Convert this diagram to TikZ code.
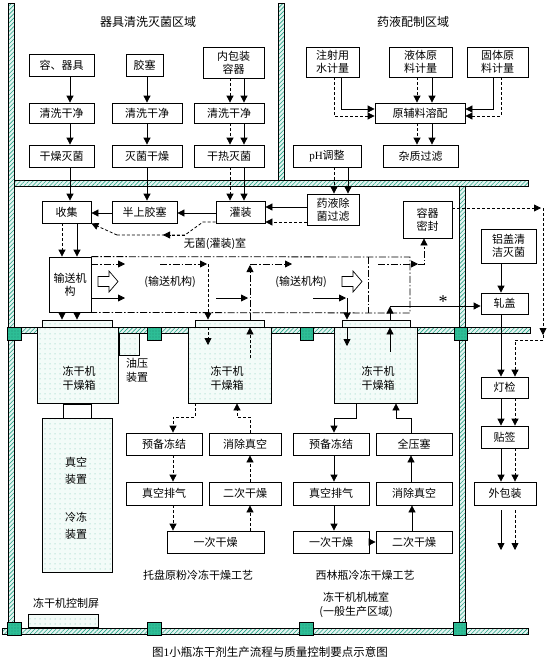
\documentclass[tikz,border=0pt]{standalone}
\usepackage{fontspec}
\setmainfont{Noto Sans CJK SC}
\newfontfamily\lat{Liberation Serif}
\usetikzlibrary{arrows.meta,patterns,patterns.meta}
\definecolor{wallc}{RGB}{40,165,135}
\definecolor{sqc}{RGB}{45,190,150}
\definecolor{chc}{RGB}{243,251,248}
\tikzset{
 box/.style={draw, line width=0.8pt, fill=white, inner sep=0pt, align=center, font=\fontsize{11}{13}\selectfont},
 chamber/.style={draw, line width=0.8pt, preaction={fill=chc}, pattern={Dots[radius=0.5pt,distance=5pt]}, pattern color=wallc!70, inner sep=0pt},
 ar/.style={-{Triangle[length=7pt,width=7pt]}, line width=0.8pt},
 dar/.style={ar, dash pattern=on 3pt off 2pt},
 ddar/.style={ar, dash pattern=on 7pt off 2pt on 1.5pt off 2pt},
 dd/.style={line width=0.8pt, dash pattern=on 7pt off 2pt on 1.5pt off 2pt},
 lbl/.style={inner sep=0pt, align=center, font=\fontsize{11}{14}\selectfont},
 ttl/.style={inner sep=0pt, font=\fontsize{12}{14}\selectfont},
}
\newcommand\B[7][box]{\node[#1,minimum width=#5,minimum height=#6] (#2) at (#3,#4) {#7};}
\newcommand\wallr[4]{\fill[wallc!12] (#1,#2) rectangle (#3,#4);
 \fill[pattern={Lines[angle=45,distance=3pt,line width=0.6pt]}, pattern color=wallc] (#1,#2) rectangle (#3,#4);
 \draw[line width=0.5pt] (#1,#2) rectangle (#3,#4);}
\newcommand\sqr[2]{\fill[sqc] (#1,#2) rectangle ++(13.5,13.5);
 \fill[pattern={Dots[radius=0.4pt,distance=3pt]}, pattern color=wallc!40!black] (#1,#2) rectangle ++(13.5,13.5);
 \draw[line width=0.5pt] (#1,#2) rectangle ++(13.5,13.5);}
\begin{document}
\begin{tikzpicture}[x=1pt,y=-1pt]
\fill[white] (0,0) rectangle (550,664);
\useasboundingbox (0,0) rectangle (550,664);
% walls
\wallr{8}{3}{14}{628}
\wallr{278}{3}{284}{180}
\wallr{14}{180}{528}{186}
\wallr{459}{186}{465}{628}
\wallr{2}{628}{528}{634}
\wallr{14}{327}{37}{333}
\wallr{118}{327}{188}{333}
\wallr{271}{327}{334}{333}
\wallr{417}{327}{530}{333}
\sqr{7.5}{327}\sqr{147.5}{327}\sqr{300}{327}\sqr{454}{327}
\sqr{7.5}{622}\sqr{147.5}{622}\sqr{299.5}{622}\sqr{453}{622}
% titles
\node[ttl] (t1) at (148,22) {器具清洗灭菌区域};
\node[ttl] (t2) at (413,22) {药液配制区域};
% top-left boxes
\B{rq}{61.5}{65}{65}{22}{容、器具}
\B{jiaos}{144.5}{65}{37}{22}{胶塞}
\B{nbz}{233.5}{62.5}{61}{31}{内包装\\容器}
\B{qx1}{61.5}{113}{65}{20}{清洗干净}
\B{qx2}{147}{113}{70}{20}{清洗干净}
\B{qx3}{229}{113}{70}{20}{清洗干净}
\B{gz1}{61.5}{156}{65}{22}{干燥灭菌}
\B{mj2}{147}{156}{70}{22}{灭菌干燥}
\B{gr3}{229}{156}{70}{22}{干热灭菌}
% top-right boxes
\B{zsy}{332.5}{62}{53}{30}{注射用\\水计量}
\B{yt}{420.5}{62}{63}{30}{液体原\\料计量}
\B{gt}{497.5}{62}{61}{30}{固体原\\料计量}
\B{yfl}{420}{113}{90}{20}{原辅料溶配}
\B{zz}{420.5}{156}{75}{22}{杂质过滤}
\B{ph}{327}{156}{68}{22}{{\lat pH}调整}
% middle boxes
\B{sj}{66.5}{212}{49}{22}{收集}
\B{bs}{144.5}{212}{65}{22}{半上胶塞}
\B{gzz}{240.5}{212}{49}{22}{灌装}
\B{yyc}{333}{209.5}{52}{31}{药液除\\菌过滤}
\B{rq2}{427.5}{219.5}{49}{37}{容器\\密封}
\B{lg}{508.5}{246}{55}{34}{铝盖清\\洁灭菌}
\B{zg}{504.5}{303.5}{47}{21}{轧盖}
\B{ss}{70}{284.5}{42}{55}{输送机\\构}
% chambers
\B[chamber]{ch1}{77.5}{365}{81}{76}{}
\B[chamber]{ch2}{229.5}{365}{83}{76}{}
\B[chamber]{ch3}{375.5}{365}{83}{76}{}
\B[chamber]{pl1}{77}{323.5}{70}{7}{}
\B[chamber]{pl2}{229.5}{323.5}{69}{7}{}
\B[chamber]{pl3}{376}{323.5}{68}{7}{}
\B[chamber]{oil}{129}{344}{20}{22}{}
\B[box]{conn}{77}{411}{28}{14}{}
\B[chamber]{vac}{77}{495}{70}{154}{}
\B[chamber]{pnl}{63}{620.5}{70}{13}{}
\node[lbl] (c1t) at (79,378) {冻干机\\干燥箱};
\node[lbl] (c2t) at (227,378) {冻干机\\干燥箱};
\node[lbl] (c3t) at (378,378) {冻干机\\干燥箱};
\node[lbl] (oilt) at (137,370) {油压\\装置};
\node[lbl, font=\fontsize{11}{17}\selectfont] (vt1) at (76,471) {真空\\装置};
\node[lbl, font=\fontsize{11}{17}\selectfont] (vt2) at (76,526) {冷冻\\装置};
\node[lbl] (pnlt) at (66,603) {冻干机控制屏};
% lower boxes
\B{yb2}{164}{444}{76}{22}{预备冻结}
\B{xc2}{245}{444}{72}{22}{消除真空}
\B{zk2}{164}{493.5}{76}{23}{真空排气}
\B{ec2}{245}{493.5}{72}{23}{二次干燥}
\B{yc2}{215.5}{542}{97}{22}{一次干燥}
\B{yb3}{331}{444}{76}{22}{预备冻结}
\B{qy3}{414}{444}{76}{22}{全压塞}
\B{zk3}{331}{493.5}{76}{23}{真空排气}
\B{xc3}{414}{493.5}{76}{23}{消除真空}
\B{yc3}{331}{542}{76}{22}{一次干燥}
\B{ec3}{414}{542}{76}{22}{二次干燥}
\B{dj}{504.5}{387.5}{47}{21}{灯检}
\B{tq}{504.5}{437}{47}{22}{贴签}
\B{wbz}{505}{493.5}{62}{23}{外包装}
% labels
\node[lbl] (wj) at (215,244) {无菌(灌装)室};
\node[lbl] (cs1) at (170,282) {(输送机构)};
\node[lbl] (cs2) at (301,282) {(输送机构)};
\node[lbl, font=\lat\fontsize{18}{18}\selectfont] (star) at (443,302) {*};
\node[lbl] (gy1) at (198,575) {托盘原粉冷冻干燥工艺};
\node[lbl] (gy2) at (365,575) {西林瓶冷冻干燥工艺};
\node[lbl] (jx) at (356,605) {冻干机机械室\\(一般生产区域)};
\node[lbl, font=\fontsize{11.5}{14}\selectfont] (cap) at (270,652) {图{\lat 1}小瓶冻干剂生产流程与质量控制要点示意图};
% top-left arrows
\draw[ar] (rq.south -| 70,0) -- (qx1.north -| 70,0);
\draw[ar] (qx1.south -| 70,0) -- (gz1.north -| 70,0);
\draw[ar] (gz1.south -| 70,0) -- (sj.north -| 70,0);
\draw[ar] (jiaos.south -| 147,0) -- (qx2.north -| 147,0);
\draw[ar] (qx2.south -| 147,0) -- (mj2.north -| 147,0);
\draw[ar] (mj2.south -| 147,0) -- (bs.north -| 147,0);
\draw[dar] (nbz.south -| 230,0) -- (qx3.north -| 230,0);
\draw[ar] (nbz.south -| 244,0) -- (qx3.north -| 244,0);
\draw[dar] (qx3.south -| 230,0) -- (gr3.north -| 230,0);
\draw[ar] (qx3.south -| 244,0) -- (gr3.north -| 244,0);
\draw[dar] (gr3.south -| 230,0) -- (gzz.north -| 230,0);
\draw[ar] (gr3.south -| 244,0) -- (gzz.north -| 244,0);
% top-right arrows
\draw[ar] (zsy.south -| 341,0) |- (yfl.west |- 0,109);
\draw[dar] (zsy.south -| 334,0) |- (yfl.west |- 0,116);
\draw[dar] (yt.south -| 417,0) -- (yfl.north -| 417,0);
\draw[ar] (yt.south -| 432,0) -- (yfl.north -| 432,0);
\draw[ar] (gt.south -| 493,0) |- (yfl.east |- 0,109);
\draw[dar] (gt.south -| 501,0) |- (yfl.east |- 0,116);
\draw[dar] (yfl.south -| 417,0) -- (zz.north -| 417,0);
\draw[ar] (yfl.south -| 432,0) -- (zz.north -| 432,0);
\draw[dar] (ph.south -| 334,0) -- (yyc.north -| 334,0);
\draw[ar] (ph.south -| 348,0) -- (yyc.north -| 348,0);
% filling room arrows
\draw[ar] (yyc.west |- 0,207) -- (gzz.east |- 0,207);
\draw[dar] (yyc.west |- 0,222) -- (gzz.east |- 0,222);
\draw[ar] (gzz.west |- 0,213) -- (bs.east |- 0,213);
\draw[ar] (bs.west |- 0,213) -- (sj.east |- 0,213);
\draw[line width=0.8pt, dash pattern=on 3pt off 2pt] (gzz.west |- 0,222) -- (203,222) -- (185,235) -- (117,235);
\draw[dar] (185,235) -- (163,235);
\draw[dar] (117,235) -- (sj.south east);
\draw[dar] (sj.south -| 62,0) -- (ss.north -| 62,0);
\draw[ar] (sj.south -| 77,0) -- (ss.north -| 77,0);
\draw[dar] (ss.south -| 62,0) -- (pl1.north -| 62,0);
\draw[ar] (ss.south -| 77,0) -- (pl1.north -| 77,0);
% conveyor
\draw[dd] (ss.north east) -- (410,257) -- (410,313) -- (ss.south east);
\draw[dd] (368,257) -- (368,313);
\draw[ddar] (ss.east |- 0,264) -- (125,264);
\draw[ar] (ss.east |- 0,298) -- (125,298);
\draw[line width=0.7pt, fill=white] (98,276.5) -- (109,276.5) -- (109,271) -- (118,281.5) -- (109,292) -- (109,286.5) -- (98,286.5) -- cycle;
\draw[line width=0.7pt, fill=white] (342,276.5) -- (353,276.5) -- (353,271) -- (362,281.5) -- (353,292) -- (353,286.5) -- (342,286.5) -- cycle;
\draw[ddar] (160,264) -- (207,264);
\draw[dar] (208,264) -- (pl2.north -| 208,0);
\draw[dar] (pl2.south -| 208,0) -- (208,345);
\draw[ar] (216,298) -- (248,298);
\draw[dar] (250,358) -- (pl2.south -| 250,0);
\draw[ddar] (pl2.north -| 250,0) -- (250,265);
\draw[ddar] (250,264) -- (292,264);
\draw[ar] (313,298) -- (346,298);
\draw[ar] (347,298) -- (pl3.north -| 347,0);
\draw[ar] (pl3.south -| 347,0) -- (347,346);
\draw[ar] (390,352) -- (pl3.south -| 390,0);
\draw[ar] (pl3.north -| 390,0) -- (390,306.5);
\draw[ar] (390,306) -- (zg.west |- 0,306);
\draw[ddar] (378,264) -- (418,264);
\draw[ddar] (418,264) -- (424,264) -- (rq2.south -| 424,0);
% right column
\draw[dar] (rq2.east |- 0,208) -- (541,208);
\draw[dar] (543,208) -- (543,335);
\draw[dar] (543,335) -- (543,340) -| (dj.north -| 515,0);
\draw[ar] (lg.south -| 501,0) -- (zg.north -| 501,0);
\draw[ar] (zg.south -| 501,0) -- (dj.north -| 501,0);
\draw[ar] (dj.south -| 501,0) -- (tq.north -| 501,0);
\draw[dar] (dj.south -| 515,0) -- (tq.north -| 515,0);
\draw[ar] (tq.south -| 501,0) -- (wbz.north -| 501,0);
\draw[dar] (tq.south -| 515,0) -- (wbz.north -| 515,0);
\coordinate (o1) at (501,550);
\coordinate (o2) at (515,550);
\draw[ar] (wbz.south -| 501,0) ++(0,5) -- (o1);
\draw[dar] (wbz.south -| 515,0) ++(0,5) -- (o2);
% chamber 2 process
\draw[dar] (ch2.south -| 195,0) -- (195,417) -| (yb2.north -| 173,0);
\draw[dar] (xc2.north -| 250,0) -- (250,417) -| (ch2.south -| 237,0);
\draw[dar] (yb2.south -| 173,0) -- (zk2.north -| 173,0);
\draw[dar] (ec2.north -| 250,0) -- (xc2.south -| 250,0);
\draw[dar] (zk2.south -| 173,0) -- (yc2.north -| 173,0);
\draw[dar] (yc2.north -| 250,0) -- (ec2.south -| 250,0);
% chamber 3 process
\draw[ar] (ch3.south -| 356,0) -- (356,418) -| (yb3.north -| 334,0);
\draw[ar] (qy3.north -| 411,0) -- (411,418) -| (ch3.south -| 396,0);
\draw[ar] (yb3.south -| 334,0) -- (zk3.north -| 334,0);
\draw[ar] (xc3.north -| 411,0) -- (qy3.south -| 411,0);
\draw[ar] (zk3.south -| 334,0) -- (yc3.north -| 334,0);
\draw[ar] (yc3.east) -- (ec3.west);
\draw[ar] (ec3.north -| 412,0) -- (xc3.south -| 412,0);
\end{tikzpicture}
\end{document}
